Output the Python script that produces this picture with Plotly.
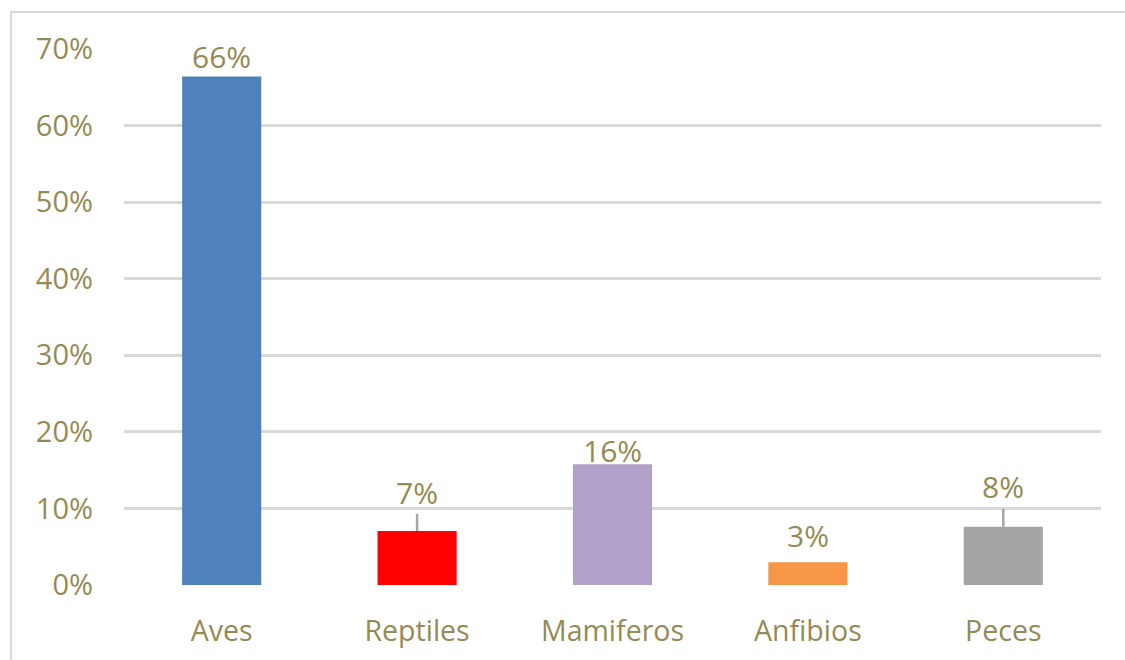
import plotly.graph_objects as go

# Share of species by animal group
categories = ["Aves", "Reptiles", "Mamiferos", "Anfibios", "Peces"]
shares = [0.664, 0.0705, 0.1576, 0.0296, 0.0762]
bar_colors = ["#4F81BD", "#FF0000", "#B1A0C7", "#F79646", "#A5A5A5"]
tick_values = [0, 0.1, 0.2, 0.3, 0.4, 0.5, 0.6, 0.7]

# label placement: pixel offset of each label centre above its bar, and whether it gets a leader line
label_offsets = [20, 39, 14, 27, 40]
label_leaders = [False, True, False, False, True]

TEXT_COLOR = "#948A54"
GRID_COLOR = "#D9D9D9"
FONT = "Open Sans"

fig = go.Figure(
    go.Bar(
        x=categories,
        y=shares,
        marker=dict(color=bar_colors, line=dict(width=0)),
        width=0.405,
        hoverinfo="skip",
    )
)

for cat, val, off, lead in zip(categories, shares, label_offsets, label_leaders):
    text = f"{round(val * 100):d}%"
    if lead:
        fig.add_annotation(
            x=cat, y=val, text=text, showarrow=True, arrowhead=0,
            arrowwidth=2.5, arrowcolor="#A6A6A6", ax=0, ay=-off, standoff=0,
            font=dict(family=FONT, size=30, color=TEXT_COLOR),
        )
    else:
        fig.add_annotation(
            x=cat, y=val, text=text, showarrow=False, yanchor="middle",
            yshift=off, font=dict(family=FONT, size=30, color=TEXT_COLOR),
        )

# outer chart border
W, H = 1125, 660
ml, mr, mt, mb = 124, 24, 49, 75
pw, ph = W - ml - mr, H - mt - mb
fig.add_shape(
    type="rect", xref="paper", yref="paper",
    x0=(11 - ml) / pw, x1=(W + 20 - ml) / pw,
    y0=-(mb + 20) / ph, y1=1 + (mt - 12) / ph,
    line=dict(color=GRID_COLOR, width=2), layer="below",
)

fig.update_layout(
    width=W, height=H,
    margin=dict(l=ml, r=mr, t=mt, b=mb),
    plot_bgcolor="white", paper_bgcolor="white",
    showlegend=False,
    font=dict(family=FONT, size=28, color=TEXT_COLOR),
    xaxis=dict(
        showgrid=False, showline=False, zeroline=False, ticks="",
        ticklabelstandoff=26, tickfont=dict(size=28.5, color=TEXT_COLOR),
    ),
    yaxis=dict(
        range=[0, 0.7], tickvals=tick_values, tickformat=".0%",
        showgrid=True, gridcolor=GRID_COLOR, gridwidth=2.5,
        zeroline=False, showline=False, ticks="",
        ticklabelstandoff=30, tickfont=dict(size=29, color=TEXT_COLOR),
    ),
)

fig.write_html("out.html")
